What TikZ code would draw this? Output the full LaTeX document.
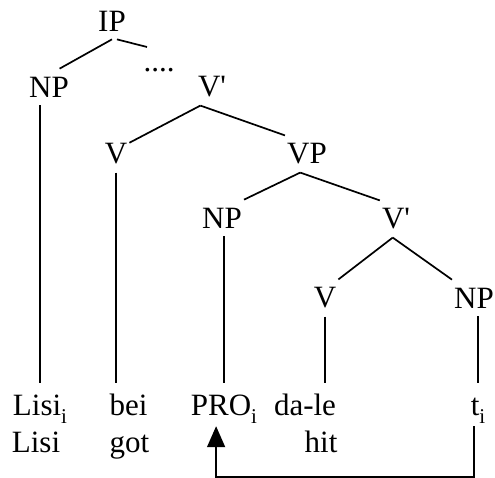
\documentclass[tikz,border=0pt]{standalone}
\usepackage{fontspec}
\setmainfont{Liberation Serif}
\usepackage{tikz}
\usetikzlibrary{arrows.meta}
\newcommand{\idx}[1]{\raisebox{-8pt}{\fontsize{21}{21}\selectfont #1}}
\tikzset{cat/.style={inner xsep=2pt,inner ysep=8pt},
  word/.style={anchor=base,inner xsep=2pt,inner ysep=0pt,text height=32pt,
  text depth=11pt}, branch/.style={line width=1.7pt},
  move/.style={line width=1.7pt,-{Triangle[width=18pt,length=21pt]}}}

\begin{document}
\begin{tikzpicture}[x=1pt,y=-1pt,font=\fontsize{31}{37}\selectfont]
 \useasboundingbox (0,0) rectangle (495,477);
 \node[cat] (ip) at (112,21) {IP};
 \node[cat] (np1) at (49,87) {NP};
 \node[cat,anchor=base] (dots) at (159,71) {....};
 \coordinate (ipr) at (147,47);
 \node[cat] (vbar1) at (212,87) {V\textquotesingle};
 \node[cat] (v1) at (116,154) {V};
 \node[cat] (vp) at (307,154) {VP};
 \node[cat] (np2) at (222,218) {NP};
 \node[cat] (vbar2) at (396,219) {V\textquotesingle};
 \node[cat] (v2) at (325,298) {V};
 \node[cat] (np3) at (474,298) {NP};
 \node[word] (w-lisi) at (40,415) {Lisi\idx{i}};
 \node[word] (w-bei) at (128.5,415) {bei};
 \node[word] (w-pro) at (224,415) {PRO\idx{i}};
 \node[word] (w-dale) at (305,415) {da-le};
 \node[word] (w-t) at (478,415) {t\idx{i}};
 \node[word] (g-lisi) at (36,452) {Lisi};
 \node[word] (g-got) at (129.5,452) {got};
 \node[word] (g-hit) at (321,452) {hit};
 \draw[branch] (ip.south)--(np1.60);
 \draw[branch] (ip.-75)--(ipr);
 \draw[branch] (vbar1.238)--(v1.40);
 \draw[branch] (vbar1.238)--(vp.north west);
 \draw[branch] (vp.250)--(np2.north east);
 \draw[branch] (vp.250)--(vbar2.north west);
 \draw[branch] (vbar2.260)--(v2.north east);
 \draw[branch] (vbar2.260)--(np3.north west);
 \draw[branch] (np1.south -| w-lisi)--(w-lisi.north);
 \draw[branch] (v1.south)--(v1.south |- w-bei.north);
 \draw[branch] (np2.south -| w-pro)--(w-pro.north);
 \draw[branch] (v2.south)--(v2.south |- w-dale.north);
 \draw[branch] (w-t.north)--(w-t.north |- np3.south);
 \draw[move] (w-t.-100)--++(0,51) -| (w-pro.-110);
\end{tikzpicture}
\end{document}
